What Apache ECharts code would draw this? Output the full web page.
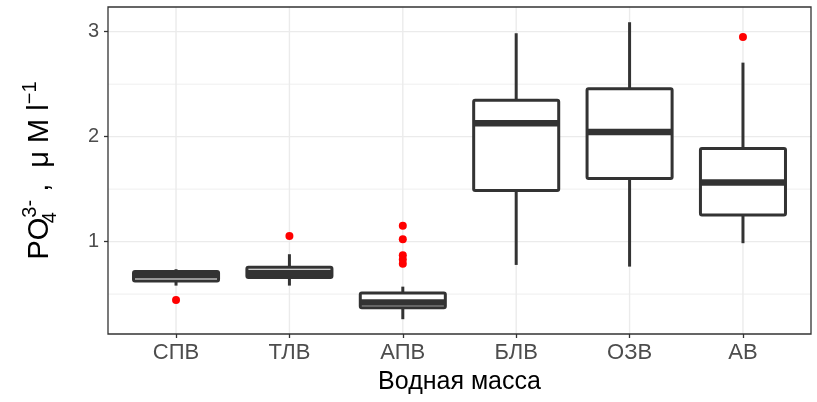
<!DOCTYPE html>
<html><head><meta charset="utf-8">
<script src="https://cdn.jsdelivr.net/npm/echarts@6/dist/echarts.min.js"></script>
<style>html,body{margin:0;padding:0;background:#fff}#c{width:817px;height:402px}</style>
</head><body><div id="c"></div>
<script>
const categories = ['СПВ', 'ТЛВ', 'АПВ', 'БЛВ', 'ОЗВ', 'АВ'];
const whiskerLow  = [0.581, 0.581, 0.261, 0.778, 0.762, 0.985];
const q1          = [0.626, 0.659, 0.370, 1.488, 1.602, 1.254];
const median      = [0.680, 0.700, 0.421, 2.128, 2.045, 1.564];
const q3          = [0.716, 0.757, 0.510, 2.347, 2.457, 1.888];
const whiskerHigh = [0.737, 0.880, 0.571, 2.985, 3.090, 2.705];
const outlierCat  = [0, 1, 2, 2, 2, 2, 2, 5];
const outlierVal  = [0.445, 1.054, 1.152, 1.023, 0.870, 0.830, 0.790, 2.950];
const yTicks = [1, 2, 3];
const yMinor = [0.5, 1.5, 2.5];
const xPositions = categories.map((c, i) => i);

const boxData = categories.map((c, i) => [i, whiskerLow[i], q1[i], median[i], q3[i], whiskerHigh[i]]);
const outlierData = outlierCat.map((c, i) => [c, outlierVal[i]]);
const hLines = yMinor.map(v => [0, v, 0]).concat(yTicks.map(v => [0, v, 1]));
const vLines = xPositions.map(i => [i, 1]);

const chart = echarts.init(document.getElementById('c'));
chart.setOption({
  animation: false,
  backgroundColor: '#ffffff',
  grid: { left: 108, right: 6, top: 7, bottom: 68, show: true, borderColor: '#333333', borderWidth: 1.3, backgroundColor: 'transparent', z: 5 },
  xAxis: {
    type: 'value', min: -0.6, max: 5.6,
    name: 'Водная масса', nameLocation: 'middle', nameGap: 36,
    nameTextStyle: { fontSize: 25, color: '#000000', fontFamily: 'Liberation Sans' },
    axisLine: { show: false, onZero: false },
    axisTick: { show: true, length: 4, customValues: xPositions, lineStyle: { color: '#333333', width: 1.3 } },
    axisLabel: { customValues: xPositions, fontSize: 22, color: '#4D4D4D', margin: 8, fontFamily: 'Liberation Sans',
      formatter: v => categories[Math.round(v)] },
    splitLine: { show: false }
  },
  yAxis: {
    type: 'value', min: 0.12, max: 3.235,
    name: '{a|PO}{sub|4}{sup|3-}{a| ,  μ M l}{sup|−1}',
    nameLocation: 'middle', nameRotate: 90, nameGap: 48,
    nameTextStyle: {
      fontFamily: 'Liberation Sans', color: '#000000',
      rich: {
        a: { fontSize: 29, fontFamily: 'Liberation Sans', color: '#000', lineHeight: 40, verticalAlign: 'middle' },
        sub: { fontSize: 20, fontFamily: 'Liberation Sans', color: '#000', lineHeight: 40, verticalAlign: 'bottom', width: 0 },
        sup: { fontSize: 20, fontFamily: 'Liberation Sans', color: '#000', lineHeight: 40, verticalAlign: 'top' }
      }
    },
    axisLine: { show: false, onZero: false },
    axisTick: { show: true, length: 4, customValues: yTicks, lineStyle: { color: '#333333', width: 1.3 } },
    axisLabel: { customValues: yTicks, fontSize: 20, color: '#4D4D4D', margin: 9, fontFamily: 'Liberation Sans' },
    splitLine: { show: false }
  },
  series: [
    {
      type: 'custom', z: 0, silent: true, data: hLines, encode: { x: 0, y: 1 },
      renderItem: (params, api) => {
        const cs = params.coordSys;
        const p = api.coord([0, api.value(1)]);
        const major = api.value(2) === 1;
        return { type: 'line', shape: { x1: cs.x, y1: p[1], x2: cs.x + cs.width, y2: p[1] },
          style: { stroke: '#EBEBEB', lineWidth: major ? 1.4 : 0.8 } };
      }
    },
    {
      type: 'custom', z: 0, silent: true, data: vLines, encode: { x: 0, y: 1 },
      renderItem: (params, api) => {
        const cs = params.coordSys;
        const p = api.coord([api.value(0), 1]);
        return { type: 'line', shape: { x1: p[0], y1: cs.y, x2: p[0], y2: cs.y + cs.height },
          style: { stroke: '#EBEBEB', lineWidth: 1.4 } };
      }
    },
    {
      type: 'custom', z: 2, data: boxData, encode: { x: 0, y: [1, 2, 3, 4, 5] },
      renderItem: (params, api) => {
        const x = api.value(0);
        const lo = api.coord([x, api.value(1)]);
        const p1 = api.coord([x, api.value(2)]);
        const pm = api.coord([x, api.value(3)]);
        const p3 = api.coord([x, api.value(4)]);
        const hi = api.coord([x, api.value(5)]);
        const half = api.size([0.75, 0])[0] / 2;
        const ls = { stroke: '#333333', lineWidth: 3, fill: null };
        return { type: 'group', children: [
          { type: 'line', shape: { x1: lo[0], y1: lo[1], x2: p1[0], y2: p1[1] }, style: ls },
          { type: 'line', shape: { x1: p3[0], y1: p3[1], x2: hi[0], y2: hi[1] }, style: ls },
          { type: 'rect', shape: { x: p1[0] - half, y: p3[1], width: 2 * half, height: p1[1] - p3[1], r: 1.5 },
            style: { stroke: '#333333', lineWidth: 3, fill: '#ffffff', lineJoin: 'round' } },
          { type: 'line', shape: { x1: pm[0] - half, y1: pm[1], x2: pm[0] + half, y2: pm[1] },
            style: { stroke: '#333333', lineWidth: 6.5 } }
        ] };
      }
    },
    {
      type: 'scatter', z: 3, data: outlierData, symbolSize: 8,
      itemStyle: { color: '#FF0000', opacity: 1 }
    }
  ]
});
</script></body></html>
